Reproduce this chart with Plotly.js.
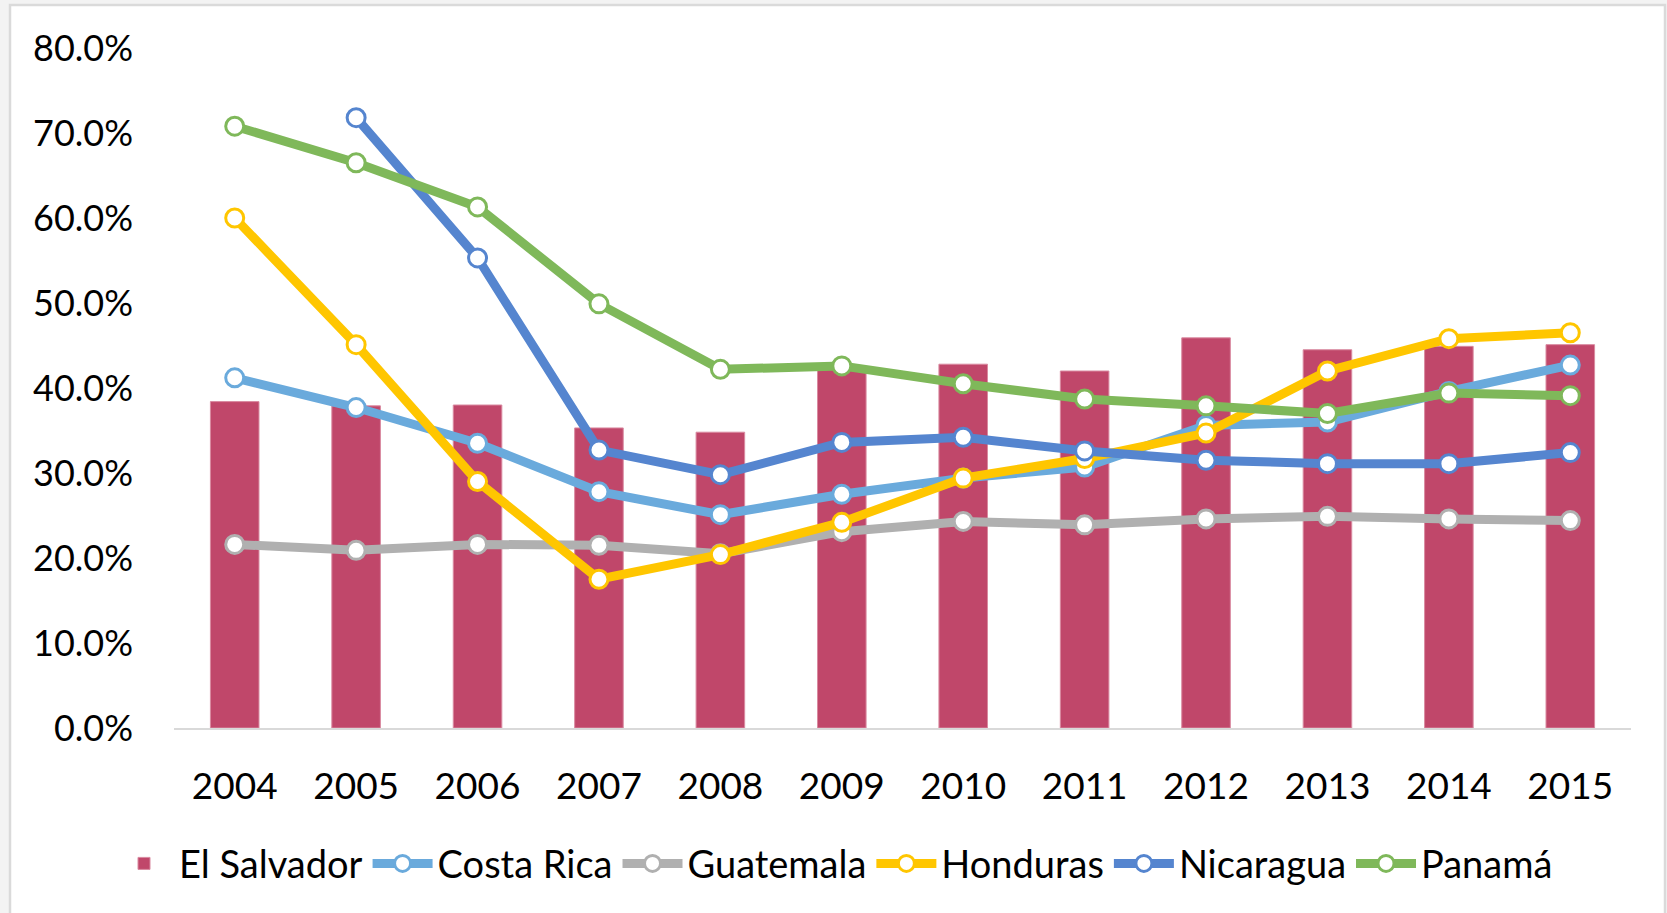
<!DOCTYPE html>
<html>
<head>
<meta charset="utf-8">
<script src="https://cdn.plot.ly/plotly-3.0.1.min.js"></script>
<style>
  html, body { margin: 0; padding: 0; background: #f3f3f3; }
  #chart { width: 1667px; height: 913px; }
</style>
</head>
<body>
<div id="chart"></div>
<script>
const years = ['2004','2005','2006','2007','2008','2009','2010','2011','2012','2013','2014','2015'];
const elSalvador = [38.4, 37.9, 38.0, 35.3, 34.8, 42.3, 42.8, 42.0, 45.9, 44.5, 44.9, 45.1];
const costaRica  = [41.2, 37.7, 33.5, 27.8, 25.1, 27.5, 29.4, 30.7, 35.6, 36.0, 39.6, 42.7];
const guatemala  = [21.6, 20.9, 21.6, 21.5, 20.5, 23.1, 24.3, 23.9, 24.6, 24.9, 24.6, 24.4];
const honduras   = [60.0, 45.1, 29.0, 17.5, 20.4, 24.2, 29.4, 31.7, 34.7, 42.0, 45.8, 46.5];
const nicaragua  = [null, 71.8, 55.3, 32.7, 29.8, 33.6, 34.2, 32.6, 31.5, 31.1, 31.1, 32.4];
const panama     = [70.8, 66.5, 61.3, 49.9, 42.2, 42.6, 40.5, 38.7, 37.9, 37.0, 39.4, 39.1];
const yTicks = [0, 10, 20, 30, 40, 50, 60, 70, 80];

function lineTrace(name, values, color) {
  return {
    type: 'scatter', mode: 'lines+markers', name: name, x: years, y: values,
    line: { color: color, width: 9 },
    marker: { symbol: 'circle', size: 18, color: '#ffffff', line: { color: color, width: 3 } },
    connectgaps: false
  };
}

const traces = [
  { type: 'bar', name: 'El Salvador', x: years, y: elSalvador,
    marker: { color: '#c0476a', line: { color: '#d98aa0', width: 1 } }, width: 0.4 },
  lineTrace('Costa Rica', costaRica, '#6aaadc'),
  lineTrace('Guatemala', guatemala, '#b0b0b0'),
  lineTrace('Honduras', honduras, '#ffc600'),
  lineTrace('Nicaragua', nicaragua, '#5585cf'),
  lineTrace('Panamá', panama, '#7fb85a')
];

const L = 174, R = 36, T = 48, B = 185, W = 1667, H = 913;
const pw = W - L - R, ph = H - T - B;
const px = v => (v - L) / pw;
const py = v => (H - B - v) / ph;

const layout = {
  width: W, height: H,
  margin: { l: L, r: R, t: T, b: B },
  paper_bgcolor: '#f3f3f3',
  plot_bgcolor: 'rgba(0,0,0,0)',
  font: { family: 'Lato, "Open Sans", sans-serif', size: 36, color: '#000000' },
  showlegend: true,
  xaxis: {
    type: 'category', range: [-0.5, years.length - 0.5],
    showgrid: false, zeroline: false,
    showline: true, linecolor: '#d9d9d9', linewidth: 2,
    ticks: '', ticklabelstandoff: 25,
    tickfont: { size: 37 }
  },
  yaxis: {
    range: [0, 80], tickvals: yTicks, ticktext: yTicks.map(v => v.toFixed(1) + '%'),
    showgrid: false, zeroline: false, showline: false,
    ticks: '', ticklabelstandoff: 40,
    tickfont: { size: 36 }
  },
  legend: {
    orientation: 'h', xref: 'container', yref: 'container',
    x: 0.5, xanchor: 'center', y: 0.054, yanchor: 'middle',
    font: { size: 38 }, bgcolor: 'rgba(0,0,0,0)', itemwidth: 60
  },
  shapes: [{
    type: 'rect', xref: 'paper', yref: 'paper', layer: 'below',
    x0: px(10), x1: px(1665), y0: py(930), y1: py(5),
    fillcolor: '#ffffff', line: { color: '#dadada', width: 2.5 }
  }]
};

Plotly.newPlot('chart', traces, layout, { displayModeBar: false, staticPlot: true });
</script>
</body>
</html>
